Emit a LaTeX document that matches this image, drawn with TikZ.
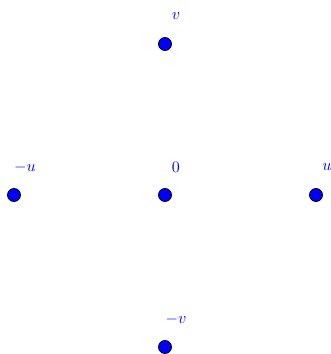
\documentclass[tikz,border=0pt]{standalone}
\usepackage{amsmath}
\usepackage{xcolor}
\usetikzlibrary{positioning}

\begin{document}
\begin{tikzpicture}[x=1pt, y=1pt,
    dot/.style={circle, fill=blue, draw=black, line width=0.8pt, inner sep=0pt, minimum size=13pt},
    lbl/.style={text=blue, scale=1.6, transform shape}]
    \useasboundingbox (-165,-159) rectangle (165,195);
    % Lattice points
    \node[dot] (o) at (0,0) {};
    \node[dot] (v) at (0,151) {};
    \node[dot] (mv) at (0,-152) {};
    \node[dot] (u) at (151,0) {};
    \node[dot] (mu) at (-151,0) {};
    % Labels
    \node[lbl] (lo) at ([shift={(11,28)}]o) {$0$};
    \node[lbl] (lv) at ([shift={(11,28)}]v) {$v$};
    \node[lbl] (lmv) at ([shift={(11,28)}]mv) {$-v$};
    \node[lbl] (lu) at ([shift={(11,28)}]u) {$u$};
    \node[lbl] (lmu) at ([shift={(11,28)}]mu) {$-u$};
\end{tikzpicture}
\end{document}
